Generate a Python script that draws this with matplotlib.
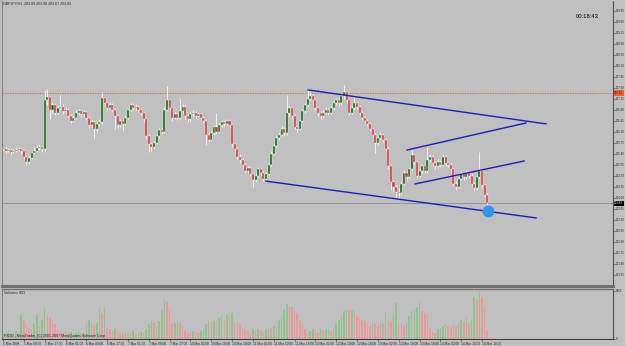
import matplotlib
matplotlib.use("Agg")
import matplotlib.pyplot as plt
import numpy as np

# ---------------- data ----------------
symbol_text = "GBPJPY,H1  203.89 203.98 203.67 203.83"
timer_text = "00:18:43"
volume_title = "Volumes 893"
copyright_text = "FXDD - MetaTrader, (C) 2001-2007 MetaQuotes Software Corp."

first_open = 205.55
closes = [
    205.56, 205.50, 205.53, 205.47, 205.50, 205.52, 205.55, 205.48, 205.30, 205.15,
    205.28, 205.42, 205.50, 205.58, 205.62, 205.55, 207.11, 207.20, 206.79, 206.95,
    206.70, 206.85, 206.90, 206.75, 206.80, 206.60, 206.45, 206.55, 206.70, 206.75,
    206.65, 206.72, 206.55, 206.30, 206.40, 206.20, 206.35, 206.40, 207.17, 207.00,
    206.85, 206.95, 206.80, 206.60, 206.30, 206.45, 206.35, 206.55, 206.80, 206.95,
    206.85, 206.90, 206.80, 206.70, 206.50, 205.95, 205.70, 205.60, 205.75, 205.95,
    206.15, 206.10, 206.80, 207.10, 206.85, 206.55, 206.65, 206.55, 206.75, 206.90,
    206.60, 206.50, 206.65, 206.70, 206.60, 206.65, 206.55, 206.45, 206.00, 205.85,
    206.05, 206.25, 206.10, 206.30, 206.40, 206.35, 206.45, 206.30, 205.70, 205.55,
    205.30, 205.20, 205.05, 204.85, 204.95, 204.75, 204.55, 204.70, 204.90, 204.80,
    204.60, 204.75, 205.05, 205.40, 205.65, 205.90, 206.00, 206.20, 206.05, 206.70,
    206.85, 206.60, 206.25, 206.20, 206.45, 206.75, 206.95, 207.15, 207.25, 207.10,
    206.85, 206.70, 206.60, 206.70, 206.80, 206.70, 206.85, 207.00, 207.10, 207.00,
    207.25, 207.35, 207.10, 206.70, 206.85, 207.00, 206.90, 206.70, 206.55, 206.45,
    206.35, 206.20, 206.00, 205.75, 205.90, 206.00, 205.85, 205.55, 205.00, 204.50,
    204.35, 204.20, 204.15, 204.45, 204.80, 204.65, 204.90, 205.35, 205.15, 204.70,
    204.85, 205.00, 204.85, 205.20, 205.30, 205.10, 205.00, 205.15, 205.05, 205.30,
    205.10, 205.05, 204.90, 204.45, 204.35, 204.60, 204.75, 204.65, 204.80, 204.70,
    204.45, 204.30, 204.65, 204.85, 204.40, 204.10, 203.83,
]
highs = [
    205.62, 205.60, 205.58, 205.57, 205.56, 205.60, 205.63, 205.60, 205.52, 205.35,
    205.33, 205.47, 205.60, 205.68, 205.70, 205.66, 207.43, 207.45, 207.25, 207.05,
    207.00, 206.95, 207.27, 206.98, 206.88, 206.85, 206.66, 206.62, 206.78, 206.82,
    206.80, 206.78, 206.76, 206.60, 206.48, 206.45, 206.42, 206.50, 207.36, 207.22,
    207.05, 207.05, 207.00, 206.85, 206.65, 206.52, 206.50, 206.62, 206.86, 207.02,
    207.00, 206.98, 206.94, 206.85, 206.74, 206.55, 206.02, 205.78, 205.82, 206.02,
    206.22, 206.25, 206.90, 207.55, 207.15, 206.90, 206.72, 206.70, 207.17, 206.98,
    206.94, 206.66, 206.72, 206.78, 206.75, 206.72, 206.70, 206.60, 206.50, 206.08,
    206.12, 206.32, 206.70, 206.38, 206.48, 206.46, 206.52, 206.50, 206.35, 205.75,
    205.60, 205.38, 205.25, 205.10, 205.02, 205.00, 204.80, 204.78, 204.98, 204.95,
    204.85, 204.82, 205.12, 205.48, 205.72, 205.98, 206.10, 206.28, 206.25, 207.27,
    206.95, 206.90, 206.65, 206.32, 206.52, 206.82, 207.02, 207.45, 207.35, 207.30,
    207.15, 206.90, 206.75, 206.78, 206.88, 206.85, 206.92, 207.08, 207.18, 207.15,
    207.32, 207.59, 207.40, 207.15, 206.92, 207.27, 207.05, 206.95, 206.75, 206.60,
    206.50, 206.40, 206.25, 206.05, 205.98, 206.08, 206.05, 205.90, 205.60, 205.05,
    204.58, 204.42, 204.30, 204.52, 204.88, 204.85, 204.98, 205.52, 205.40, 205.20,
    204.92, 205.08, 205.05, 205.62, 205.38, 205.35, 205.15, 205.22, 205.20, 205.38,
    205.35, 205.15, 205.10, 204.95, 204.52, 204.66, 204.82, 204.80, 204.88, 204.85,
    204.75, 204.50, 204.72, 205.46, 204.90, 204.45, 204.15,
]
lows = [
    205.48, 205.44, 205.45, 205.40, 205.42, 205.46, 205.48, 205.40, 205.22, 205.05,
    205.08, 205.24, 205.38, 205.45, 205.52, 205.45, 205.50, 206.95, 206.50, 206.70,
    206.62, 206.65, 206.80, 206.68, 206.70, 206.55, 206.38, 206.40, 206.50, 206.65,
    206.58, 206.60, 206.48, 206.22, 206.25, 205.90, 206.10, 206.28, 206.35, 206.90,
    206.78, 206.80, 206.72, 206.20, 206.22, 206.25, 206.15, 206.30, 206.50, 206.75,
    206.80, 206.78, 206.74, 206.62, 206.42, 205.88, 205.45, 205.50, 205.55, 205.70,
    205.90, 206.02, 206.05, 206.75, 206.78, 206.45, 206.50, 206.48, 206.50, 206.70,
    206.52, 206.42, 206.45, 206.60, 206.55, 206.56, 206.48, 206.38, 205.68, 205.78,
    205.80, 206.00, 206.04, 206.05, 206.25, 206.28, 206.30, 206.22, 205.60, 205.45,
    205.22, 205.12, 204.95, 204.78, 204.80, 204.68, 204.33, 204.50, 204.65, 204.72,
    204.52, 204.55, 204.70, 205.00, 205.35, 205.60, 205.85, 205.95, 205.98, 206.00,
    206.60, 206.52, 206.18, 206.10, 206.15, 206.40, 206.70, 206.90, 207.10, 207.02,
    206.78, 206.60, 206.52, 206.55, 206.65, 206.62, 206.65, 206.80, 206.95, 206.92,
    206.95, 207.15, 207.00, 206.62, 206.65, 206.80, 206.82, 206.62, 206.48, 206.38,
    206.28, 206.12, 205.92, 205.42, 205.68, 205.85, 205.78, 205.48, 204.92, 204.25,
    204.20, 203.99, 203.97, 204.08, 204.40, 204.55, 204.60, 204.85, 205.05, 204.62,
    204.65, 204.80, 204.78, 204.80, 205.15, 205.02, 204.92, 204.95, 204.98, 205.00,
    205.02, 204.98, 204.82, 204.38, 204.25, 204.30, 204.55, 204.58, 204.60, 204.62,
    204.38, 204.22, 204.25, 204.60, 204.32, 204.02, 203.78,
]
volumes = [
    520, 390, 570, 310, 470, 650, 520, 1900, 1560, 1170,
    910, 780, 1170, 1900, 1040, 1560, 2470, 1950, 1690, 1560,
    1170, 780, 650, 520, 650, 470, 570, 390, 520, 650,
    470, 520, 1170, 1560, 1300, 1040, 1300, 2470, 2080, 2470,
    910, 780, 650, 780, 570, 520, 390, 570, 470, 520,
    650, 390, 520, 570, 470, 780, 1170, 1430, 1300, 1040,
    1430, 2340, 3120, 2990, 2340, 1170, 1300, 1430, 1300, 1040,
    650, 520, 470, 650, 570, 520, 650, 780, 1170, 1430,
    1300, 1430, 1430, 1690, 1820, 1560, 1950, 1820, 2080, 1300,
    1300, 1170, 910, 780, 650, 520, 780, 650, 780, 730,
    570, 780, 910, 910, 1040, 990, 1560, 1950, 2340, 2810,
    2600, 2600, 2210, 2080, 1560, 1170, 780, 520, 650, 780,
    650, 520, 780, 650, 730, 780, 650, 910, 1300, 1560,
    1820, 2210, 2290, 2290, 2340, 2210, 1820, 1690, 1560, 1430,
    1170, 1040, 1300, 1170, 1040, 1300, 1300, 2160, 1560, 1430,
    1950, 2860, 1300, 1170, 1040, 1300, 1820, 2210, 2390, 2600,
    3040, 2210, 2080, 1950, 910, 650, 520, 780, 910, 1040,
    1170, 1040, 990, 1170, 1040, 1300, 1560, 1430, 1690, 1300,
    1560, 3380, 3120, 3850, 3380, 2600, 650,
]
price_ticks = [209.95, 209.60, 209.25, 208.90, 208.55, 208.20, 207.85, 207.50,
               207.15, 206.80, 206.45, 206.10, 205.75, 205.40, 205.05, 204.70,
               204.35, 204.00, 203.65, 203.30, 202.95, 202.60, 202.25, 201.90,
               201.55]
time_labels = ["5 Mar 2008", "5 Mar 09:00", "5 Mar 17:00", "6 Mar 01:00",
               "6 Mar 09:00", "6 Mar 17:00", "7 Mar 01:00", "7 Mar 09:00",
               "7 Mar 17:00", "10 Mar 02:00", "10 Mar 10:00", "10 Mar 18:00",
               "11 Mar 02:00", "11 Mar 10:00", "11 Mar 18:00", "12 Mar 02:00",
               "12 Mar 10:00", "12 Mar 18:00", "13 Mar 02:00", "13 Mar 10:00",
               "13 Mar 18:00", "14 Mar 02:00", "14 Mar 10:00", "14 Mar 18:00"]
bars_per_label = 8
trend_starts = [(117.2, 207.43), (101.0, 204.53), (155.2, 205.52), (158.3, 204.44)]
trend_ends = [(208.6, 206.35), (204.8, 203.36), (200.9, 206.38), (200.2, 205.17)]
marker_point = (186.3, 203.58)
resistance_level = 207.33
bid_level = 203.83
volume_max_label = "3852"

# ---------------- figure ----------------
BG = "#c0c0c0"
W, H = 625, 346
fig = plt.figure(figsize=(W / 100, H / 100), dpi=100, facecolor=BG)
FONT = ["Liberation Sans Narrow", "Liberation Sans", "DejaVu Sans"]
plt.rcParams["font.family"] = FONT

def fx(px):
    return px / W

def fy(py):
    return 1 - py / H

ax = fig.add_axes([fx(2), fy(286), fx(611), fy(1) - fy(286)], facecolor=BG)
axv = fig.add_axes([fx(2), fy(339), fx(611), fy(289) - fy(339)], facecolor=BG)

n = len(closes)
x = np.arange(n)
c = np.array(closes)
o = np.concatenate([[first_open], c[:-1]])
h = np.array(highs)
l = np.array(lows)
up = c >= o

xmin, xmax = -0.4, -0.4 + 611 / 2.603
# wicks
ax.vlines(x, l, h, color="#f4f4f4", lw=0.65, zorder=2)
body_lo = np.minimum(o, c)
body_h = np.maximum(np.abs(c - o), 0.02)
ax.bar(x[up], body_h[up], bottom=body_lo[up], width=0.78, color="#0a660a",
       edgecolor="#eef4ee", linewidth=0.3, zorder=3)
ax.bar(x[~up], body_h[~up], bottom=body_lo[~up], width=0.78, color="#cc3c3c",
       edgecolor="#f8d8d8", linewidth=0.3, zorder=3)

# horizontal lines
ax.axhline(resistance_level, color="#d06050", lw=0.6, ls=(0, (1.5, 1.5)), zorder=1)
ax.axhline(bid_level, color="#8c8c9c", lw=0.6, zorder=1)

# trend lines
for (x0, y0), (x1, y1) in zip(trend_starts, trend_ends):
    ax.plot([x0, x1], [y0, y1], color="#1c1cb8", lw=1.0, zorder=4)
ax.plot([marker_point[0]], [marker_point[1]], "o", ms=7.5, color="#2f95f2",
        mec="#2f95f2", zorder=5)

ax.set_xlim(xmin, xmax)
ax.set_ylim(201.195, 210.258)
ax.set_xticks([])
ax.yaxis.tick_right()
ax.set_yticks(price_ticks)
ax.set_yticklabels([f"{v:.2f}" for v in price_ticks])
ax.tick_params(axis="y", right=True, length=1.2, width=0.4, pad=0.6,
               labelsize=2.1, colors="#202020")
ax.spines["top"].set_visible(False)
ax.spines["left"].set_color("#808080")
ax.spines["left"].set_linewidth(0.8)
ax.spines["right"].set_color("#505050")
ax.spines["right"].set_linewidth(0.8)
ax.spines["bottom"].set_color("#707070")
ax.spines["bottom"].set_linewidth(2.2)

# price labels on axis
ax.text(1.002, resistance_level, f"{resistance_level:.2f}", transform=ax.get_yaxis_transform(),
        fontsize=2.1, color="#202020", va="center", ha="left",
        bbox=dict(boxstyle="square,pad=0.2", fc="#f06030", ec="none"), zorder=6,
        clip_on=False)
ax.text(1.002, bid_level, f"{bid_level:.2f}", transform=ax.get_yaxis_transform(),
        fontsize=2.1, color="white", va="center", ha="left",
        bbox=dict(boxstyle="square,pad=0.2", fc="black", ec="none"), zorder=6,
        clip_on=False)

fig.text(fx(3), fy(4), symbol_text, fontsize=2.6, color="#202020", va="center", ha="left")
fig.text(fx(576), fy(17), timer_text, fontsize=4.2, color="black", va="center", ha="left")

# ---------------- volume panel ----------------
vol = np.array(volumes)
vcol = ["#8fc48f"] + ["#8fc48f" if vol[i] > vol[i - 1] else "#eb9a9a" for i in range(1, n)]
axv.bar(x, vol, width=0.6, color=vcol, linewidth=0, zorder=2)
axv.set_xlim(xmin, xmax)
axv.set_ylim(0, 4010)
axv.yaxis.tick_right()
axv.set_yticks([0, 3852])
axv.set_yticklabels(["0", volume_max_label])
axv.tick_params(axis="y", right=True, length=1.2, width=0.4, pad=0.6,
                labelsize=2.1, colors="#202020")
tick_pos = np.arange(len(time_labels)) * bars_per_label
axv.set_xticks(tick_pos)
axv.set_xticklabels(time_labels, ha="left")
axv.tick_params(axis="x", length=1.2, width=0.4, pad=0.8, labelsize=2.3, colors="#202020")
axv.spines["top"].set_color("#707070")
axv.spines["top"].set_linewidth(1.0)
axv.spines["left"].set_color("#808080")
axv.spines["left"].set_linewidth(0.8)
axv.spines["right"].set_color("#505050")
axv.spines["right"].set_linewidth(0.8)
axv.spines["bottom"].set_color("#404040")
axv.spines["bottom"].set_linewidth(0.8)
axv.text(0.003, 0.93, volume_title, transform=axv.transAxes, fontsize=2.6,
         color="#202020", va="center", ha="left")
axv.text(0.003, 0.07, copyright_text, transform=axv.transAxes, fontsize=2.6,
         color="#202020", va="center", ha="left", zorder=5)

fig.savefig("out.png", dpi=100, facecolor=BG)
